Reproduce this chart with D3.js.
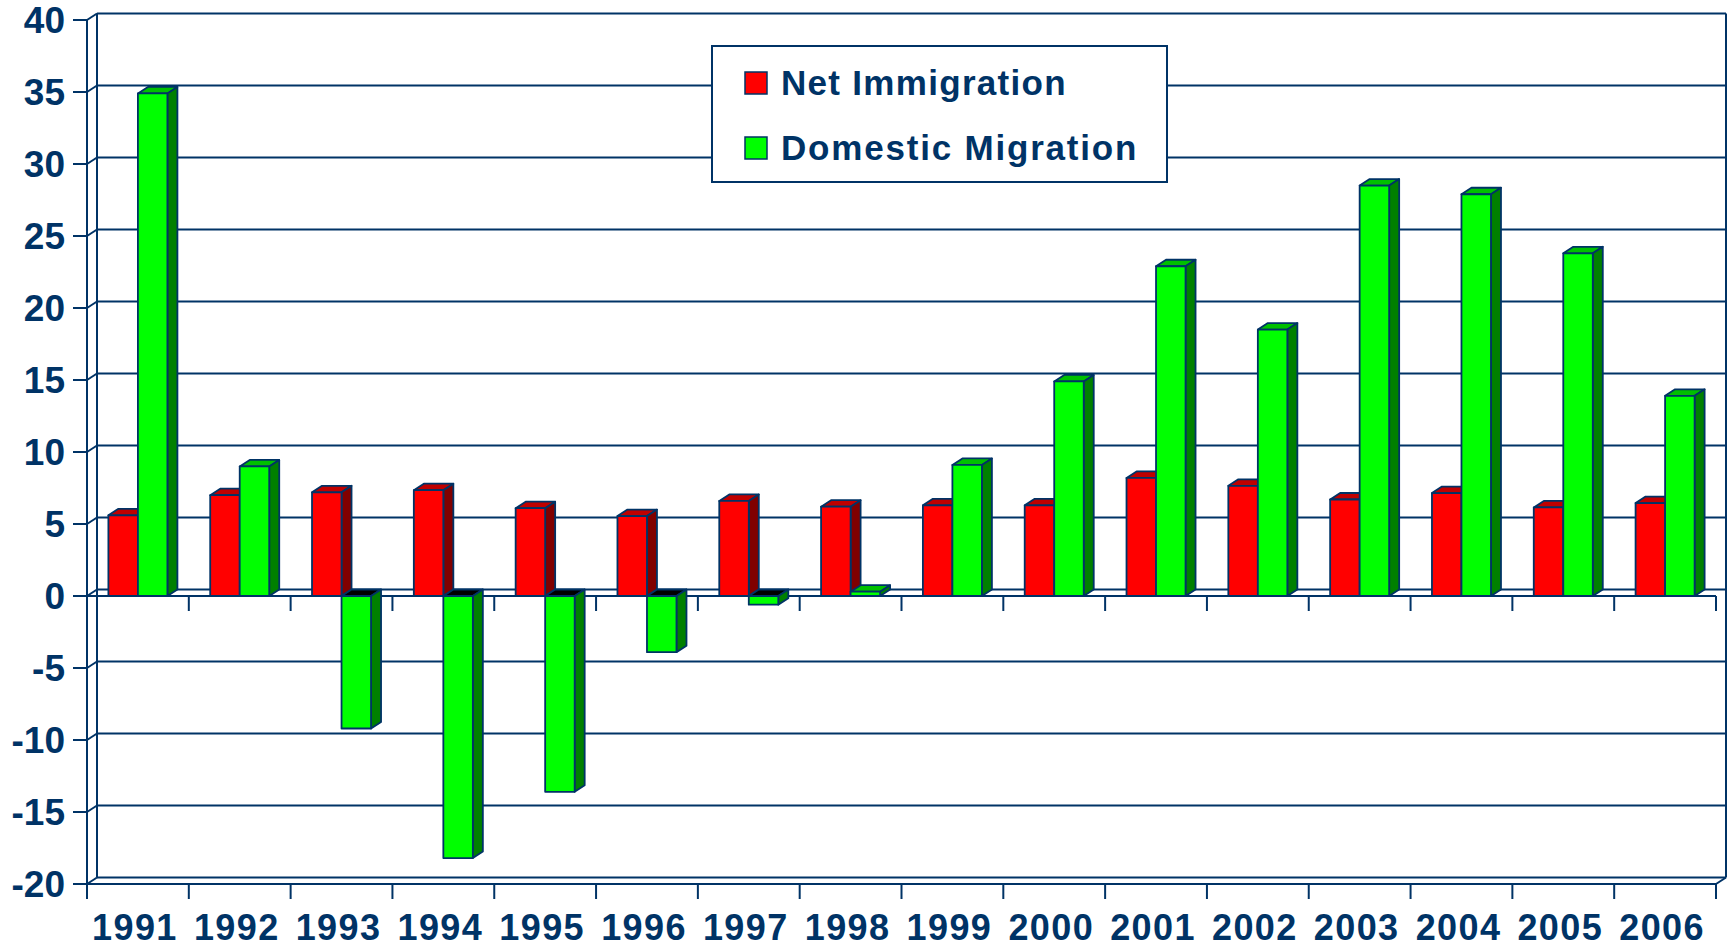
<!DOCTYPE html>
<html>
<head>
<meta charset="utf-8">
<script src="https://cdn.jsdelivr.net/npm/d3@7/dist/d3.min.js"></script>
<style>
  body { margin: 0; background: #fff; }
  svg { display: block; }
  text { font-family: "Liberation Sans", Arial, sans-serif; font-weight: bold; fill: #003366; }
</style>
</head>
<body>
<div id="chart"></div>
<script>

// data (thousands of people, by year)
var years = ["1991","1992","1993","1994","1995","1996","1997","1998",
             "1999","2000","2001","2002","2003","2004","2005","2006"];
var netImmigration = [5.6, 7.0, 7.2, 7.35, 6.1, 5.55, 6.6, 6.2,
                      6.3, 6.3, 8.2, 7.65, 6.7, 7.15, 6.15, 6.45];
var domesticMigration = [34.9, 9.0, -9.2, -18.2, -13.6, -3.9, -0.6, 0.3,
                         9.1, 14.9, 22.9, 18.5, 28.5, 27.9, 23.8, 13.9];
var seriesNames = ["Net Immigration", "Domestic Migration"];
var yTicks = [40, 35, 30, 25, 20, 15, 10, 5, 0, -5, -10, -15, -20];

var W = 1730, H = 949;
var ink = "#003366";
var dx = 10, dy = -6.5;   // depth of the 3d look

// front face colour, top face colour, side face colour
var palette = [
  {front: "#ff0000", top: "#c00000", side: "#800000"},
  {front: "#00ff00", top: "#00c000", side: "#008000"}
];

var svg = d3.select("#chart").append("svg")
  .attr("width", W)
  .attr("height", H);

// front plane of the plot box (window.top is taken, so no "top" var)
var pLeft = 87, pRight = 1716, pTop = 20, pBottom = 884;

var y = d3.scaleLinear().domain([-20, 40]).range([pBottom, pTop]);
var x = d3.scaleBand().domain(years).range([pLeft, pRight]);
var xSub = d3.scaleBand().domain(seriesNames).range([0, x.bandwidth()]).paddingOuter(0.725);

var grid = svg.append("g")
  .attr("stroke", ink)
  .attr("stroke-width", 2)
  .attr("fill", "none");

// gridlines on the back wall
grid.selectAll("line.grid")
  .data(yTicks)
  .enter().append("line")
  .attr("class", "grid")
  .attr("x1", pLeft + dx)
  .attr("x2", pRight + dx)
  .attr("y1", function(d) { return y(d) + dy; })
  .attr("y2", function(d) { return y(d) + dy; });

// little slants on the left wall
grid.selectAll("line.slant")
  .data(yTicks)
  .enter().append("line")
  .attr("class", "slant")
  .attr("x1", pLeft)
  .attr("x2", pLeft + dx)
  .attr("y1", function(d) { return y(d); })
  .attr("y2", function(d) { return y(d) + dy; });

// left wall edges, right back edge
grid.append("line").attr("x1", pLeft).attr("x2", pLeft).attr("y1", y(40)).attr("y2", y(-20));
grid.append("line").attr("x1", pLeft + dx).attr("x2", pLeft + dx).attr("y1", y(40) + dy).attr("y2", y(-20) + dy);
grid.append("line").attr("x1", pRight + dx).attr("x2", pRight + dx).attr("y1", y(40) + dy).attr("y2", y(-20) + dy);

// floor front edge + right slant
grid.append("line").attr("x1", pLeft).attr("x2", pRight).attr("y1", y(-20)).attr("y2", y(-20));
grid.append("line").attr("x1", pRight).attr("x2", pRight + dx).attr("y1", y(-20)).attr("y2", y(-20) + dy);

// zero line in front
grid.append("line").attr("x1", pLeft).attr("x2", pRight).attr("y1", y(0)).attr("y2", y(0));

// y tick marks
grid.selectAll("line.ytick")
  .data(yTicks)
  .enter().append("line")
  .attr("class", "ytick")
  .attr("x1", pLeft - 14)
  .attr("x2", pLeft)
  .attr("y1", function(d) { return y(d); })
  .attr("y2", function(d) { return y(d); });

// category ticks, both on the zero line and on the floor
var bounds = years.map(function(d) { return x(d); }).concat([pRight]);
[0, -20].forEach(function(v) {
  grid.selectAll(null)
    .data(bounds)
    .enter().append("line")
    .attr("x1", function(d) { return d; })
    .attr("x2", function(d) { return d; })
    .attr("y1", y(v))
    .attr("y2", y(v) + 15);
});

// y labels
svg.append("g").selectAll("text")
  .data(yTicks)
  .enter().append("text")
  .attr("x", 65)
  .attr("y", function(d) { return y(d); })
  .attr("dy", "0.36em")
  .attr("text-anchor", "end")
  .attr("font-size", 37)
  .text(function(d) { return d; });

// x labels (kept a hair above the bottom edge)
svg.append("g").selectAll("text")
  .data(years)
  .enter().append("text")
  .attr("x", function(d) { return x(d) + x.bandwidth() / 2 - 3; })
  .attr("y", 940)
  .attr("text-anchor", "middle")
  .attr("font-size", 36)
  .attr("letter-spacing", 1.4)
  .text(function(d) { return d; });

// bars
var rows = years.map(function(yr, i) {
  return [
    {year: yr, s: 0, v: netImmigration[i]},
    {year: yr, s: 1, v: domesticMigration[i]}
  ];
});

var bw = xSub.bandwidth();

function drawBar(g, d) {
  var x0 = x(d.year) + xSub(seriesNames[d.s]);
  var x1 = x0 + bw;
  var yTop = y(Math.max(d.v, 0));
  var yBot = y(Math.min(d.v, 0));
  var c = palette[d.s];
  var topFill = d.v < 0 ? "#000000" : c.top;

  g.append("polygon")
    .attr("points", [[x0, yTop], [x0 + dx, yTop + dy], [x1 + dx, yTop + dy], [x1, yTop]].join(" "))
    .attr("fill", topFill);
  g.append("polygon")
    .attr("points", [[x1, yTop], [x1 + dx, yTop + dy], [x1 + dx, yBot + dy], [x1, yBot]].join(" "))
    .attr("fill", c.side);
  g.append("rect")
    .attr("x", x0)
    .attr("y", yTop)
    .attr("width", bw)
    .attr("height", Math.max(yBot - yTop, 0.5))
    .attr("fill", c.front);
}

var barG = svg.append("g")
  .attr("stroke", ink)
  .attr("stroke-width", 1.8)
  .attr("stroke-linejoin", "round");

rows.forEach(function(pair) {
  pair.forEach(function(d) { drawBar(barG, d); });
});

// legend
var leg = svg.append("g");
leg.append("rect")
  .attr("x", 712).attr("y", 46)
  .attr("width", 455).attr("height", 136)
  .attr("fill", "#fff")
  .attr("stroke", ink)
  .attr("stroke-width", 2);

var legSpacing = [1.3, 1.8];
seriesNames.forEach(function(name, i) {
  var ly = 72 + i * 65;
  leg.append("rect")
    .attr("x", 745).attr("y", ly)
    .attr("width", 22).attr("height", 22)
    .attr("fill", palette[i].front)
    .attr("stroke", ink)
    .attr("stroke-width", 1.5);
  leg.append("text")
    .attr("x", 781)
    .attr("y", ly + 23)
    .attr("font-size", 35)
    .attr("letter-spacing", legSpacing[i])
    .text(name);
});

</script>
</body>
</html>
